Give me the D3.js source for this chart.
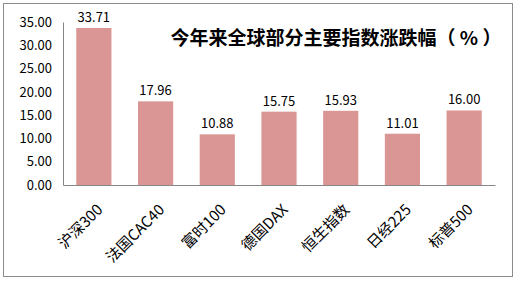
<!DOCTYPE html>
<html>
<head>
<meta charset="utf-8">
<script src="https://cdn.jsdelivr.net/npm/d3@7"></script>
<style>
  body { margin: 0; background: #fff; }
  text { font-family: "Noto Sans CJK SC", "DejaVu Sans", sans-serif; }
</style>
</head>
<body>
<svg id="chart"></svg>
<script>
const categories = ["沪深300", "法国CAC40", "富时100", "德国DAX", "恒生指数", "日经225", "标普500"];
const values = [33.71, 17.96, 10.88, 15.75, 15.93, 11.01, 16.00];
const yTicks = [0, 5, 10, 15, 20, 25, 30, 35];
const title = "今年来全球部分主要指数涨跌幅（ % ）";

const W = 517, H = 283;
const margin = { top: 22, right: 22, bottom: 98, left: 63 };
const width = W - margin.left - margin.right;
const height = H - margin.top - margin.bottom;

const svg = d3.select("#chart").attr("width", W).attr("height", H);

// outer frame
svg.append("rect")
    .attr("x", 3.5).attr("y", 3.5)
    .attr("width", 509).attr("height", 273)
    .attr("fill", "#fff")
    .attr("stroke", "#8c8c8c")
    .attr("stroke-width", 1);

const chart = svg.append("g")
    .attr("transform", `translate(${margin.left},${margin.top})`);

const x = d3.scaleBand().domain(categories).range([0, width]).paddingInner(0.43).paddingOuter(0.215);
const y = d3.scaleLinear().domain([0, 35]).range([height, 0]);

// y axis
const yAxis = chart.append("g")
    .call(d3.axisLeft(y).tickValues(yTicks).tickFormat(d3.format(".2f")).tickSize(0).tickPadding(11));
yAxis.select(".domain").attr("stroke", "#868686");
yAxis.selectAll("text").attr("font-size", 13).attr("fill", "#000");

// bars
chart.selectAll(".bar")
    .data(values)
    .join("rect")
    .attr("class", "bar")
    .attr("x", (d, i) => x(categories[i]))
    .attr("y", d => y(d))
    .attr("width", x.bandwidth())
    .attr("height", d => height - y(d))
    .attr("fill", "#d99694");

// value labels
chart.selectAll(".val")
    .data(values)
    .join("text")
    .attr("class", "val")
    .attr("x", (d, i) => x(categories[i]) + x.bandwidth() / 2)
    .attr("y", d => y(d) - 6)
    .attr("text-anchor", "middle")
    .attr("font-size", 13)
    .attr("fill", "#000")
    .text(d => d.toFixed(2));

// x axis
const xAxis = chart.append("g")
    .attr("transform", `translate(0,${height})`)
    .call(d3.axisBottom(x).tickSize(0).tickPadding(0));
xAxis.select(".domain").attr("stroke", "#868686");
xAxis.selectAll("text")
    .attr("font-size", 15)
    .attr("fill", "#000")
    .attr("text-anchor", "end")
    .attr("dy", "0.35em")
    .attr("transform", "translate(6,22) rotate(-45)");

// title
svg.append("text")
    .attr("x", 336)
    .attr("y", 45)
    .attr("text-anchor", "middle")
    .attr("font-size", 19)
    .attr("font-weight", "bold")
    .attr("fill", "#000")
    .text(title);
</script>
</body>
</html>
